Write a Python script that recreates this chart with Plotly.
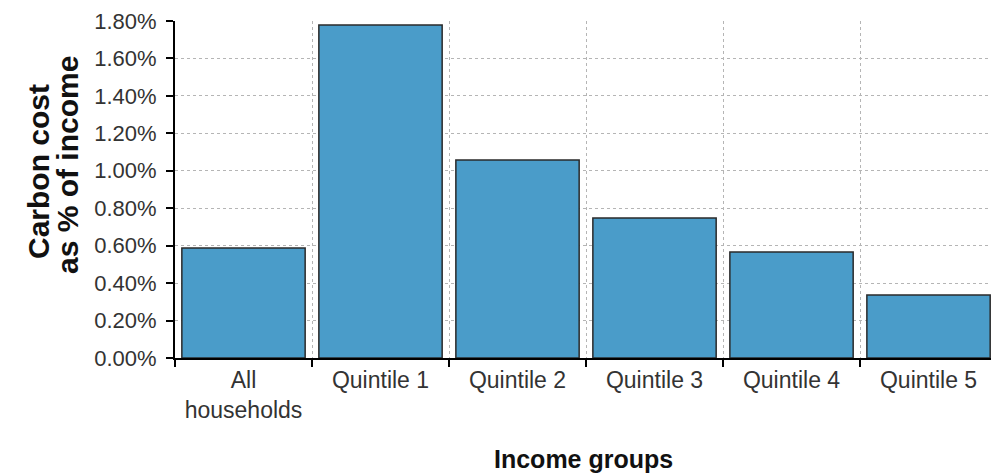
import plotly.graph_objects as go

categories = ["All<br>households", "Quintile 1", "Quintile 2", "Quintile 3", "Quintile 4", "Quintile 5"]
values = [0.588, 1.779, 1.058, 0.748, 0.566, 0.337]  # percent of income
ytick_vals = [0.0, 0.2, 0.4, 0.6, 0.8, 1.0, 1.2, 1.4, 1.6, 1.8]
ytick_text = ["%.2f%%" % v for v in ytick_vals]

fig = go.Figure(go.Bar(
    x=categories, y=values, width=0.9,
    marker=dict(color="#4a9cc9", line=dict(color="#2a2a2a", width=1.5)),
))

font_family = "Liberation Sans, Arial, sans-serif"
L, T, B, W, H = 175, 21, 118, 991, 476
pw, ph = W - L, H - T - B

def px_x(x):
    return (x - L) / pw

def px_y(y):
    return 1 - (y - T) / ph

fig.update_layout(
    width=W, height=H,
    margin=dict(l=L, r=0, t=T, b=B),
    plot_bgcolor="white", paper_bgcolor="white",
    showlegend=False,
    font=dict(family=font_family, color="#333333"),
    xaxis=dict(
        range=[-0.5, 5.456], tickson="boundaries",
        showline=True, linecolor="black", linewidth=2,
        ticks="outside", ticklen=7, tickcolor="black", tickwidth=1.5,
        showgrid=True, gridcolor="#b5b5b5", griddash="dot", gridwidth=1,
        tickfont=dict(size=23, color="#333333"),
    ),
    yaxis=dict(
        range=[0, 1.8], tickvals=ytick_vals, ticktext=ytick_text,
        showline=True, linecolor="black", linewidth=2,
        ticks="outside", ticklen=7, tickcolor="black", tickwidth=1.5,
        ticklabelstandoff=5,
        showgrid=True, gridcolor="#b5b5b5", griddash="dot", gridwidth=1,
        zeroline=False,
        tickfont=dict(size=22, color="#333333"),
    ),
    annotations=[
        dict(text="<b>Carbon cost</b>", textangle=-90, xref="paper", yref="paper",
             x=px_x(38), y=px_y(172), xanchor="center", yanchor="middle", showarrow=False,
             font=dict(size=30, color="#111111")),
        dict(text="<b>as % of income</b>", textangle=-90, xref="paper", yref="paper",
             x=px_x(67), y=px_y(165), xanchor="center", yanchor="middle", showarrow=False,
             font=dict(size=30, color="#111111")),
        dict(text="<b>Income groups</b>", xref="paper", yref="paper",
             x=px_x(583), y=px_y(459), xanchor="center", yanchor="middle", showarrow=False,
             font=dict(size=25, color="#111111")),
    ],
)

fig.write_html("out.html")
